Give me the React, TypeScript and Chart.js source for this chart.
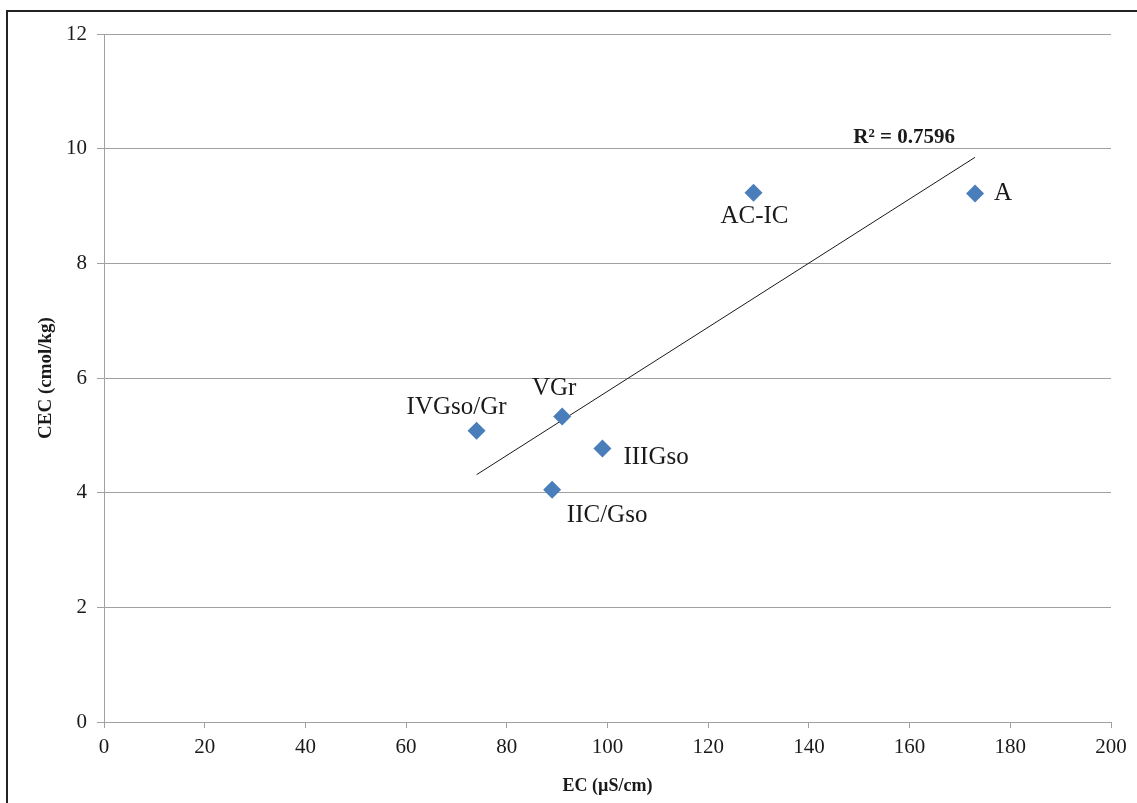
import React, { useEffect, useRef } from "react";
import { Chart, registerables } from "chart.js";

Chart.register(...registerables);

// Data
const horizonLabels = ["A", "AC-IC", "VGr", "IVGso/Gr", "IIIGso", "IIC/Gso"];
const ecValues = [173, 129, 91, 74, 99, 89];
const cecValues = [9.22, 9.23, 5.33, 5.08, 4.77, 4.05];
const xTicks = [0, 20, 40, 60, 80, 100, 120, 140, 160, 180, 200];
const yTicks = [0, 2, 4, 6, 8, 10, 12];
const r2Text = "R² = 0.7596";
const xTitle = "EC (µS/cm)";
const yTitle = "CEC (cmol/kg)";

// label placement (style): [dx, dy, align]
const labelPlacement: [number, number, CanvasTextAlign][] = [
  [19, 0, "left"],
  [1, 24, "center"],
  [-8, -28, "center"],
  [-20, -23, "center"],
  [21, 9, "left"],
  [55, 26, "center"],
];

function linearFit(xs: number[], ys: number[]) {
  const n = xs.length;
  const mx = xs.reduce((a, b) => a + b, 0) / n;
  const my = ys.reduce((a, b) => a + b, 0) / n;
  let sxy = 0;
  let sxx = 0;
  for (let i = 0; i < n; i++) {
    sxy += (xs[i] - mx) * (ys[i] - my);
    sxx += (xs[i] - mx) * (xs[i] - mx);
  }
  const slope = sxy / sxx;
  return { slope, intercept: my - slope * mx };
}

const fit = linearFit(ecValues, cecValues);
const xMin = Math.min(...ecValues);
const xMax = Math.max(...ecValues);
const trendData = [
  { x: xMin, y: fit.slope * xMin + fit.intercept },
  { x: xMax, y: fit.slope * xMax + fit.intercept },
];

const FONT = "'Liberation Serif', 'Times New Roman', serif";

const annotationPlugin = {
  id: "annotations",
  beforeDraw(chart: any) {
    const ctx = chart.ctx;
    ctx.save();
    ctx.fillStyle = "#ffffff";
    ctx.fillRect(0, 0, chart.width, chart.height);
    ctx.strokeStyle = "#222222";
    ctx.lineWidth = 2;
    ctx.beginPath();
    ctx.moveTo(7, chart.height);
    ctx.lineTo(7, 11);
    ctx.lineTo(chart.width, 11);
    ctx.stroke();
    ctx.restore();
  },
  afterDatasetsDraw(chart: any) {
    const ctx = chart.ctx;
    const meta = chart.getDatasetMeta(0);
    ctx.save();
    ctx.fillStyle = "#1a1a1a";
    ctx.font = `25px ${FONT}`;
    ctx.textBaseline = "middle";
    meta.data.forEach((pt: any, i: number) => {
      const [dx, dy, align] = labelPlacement[i];
      ctx.textAlign = align;
      ctx.fillText(horizonLabels[i], pt.x + dx, pt.y + dy);
    });
    const tmeta = chart.getDatasetMeta(1);
    const end = tmeta.data[tmeta.data.length - 1];
    ctx.font = `bold 21px ${FONT}`;
    ctx.textAlign = "center";
    ctx.fillText(r2Text, end.x - 71, end.y - 20);
    ctx.restore();
  },
};

export default function App() {
  const ref = useRef<HTMLCanvasElement | null>(null);

  useEffect(() => {
    document.body.style.margin = "0";
    const canvas = ref.current;
    if (!canvas) return;
    const chart = new Chart(canvas, {
      type: "scatter",
      data: {
        datasets: [
          {
            label: "CEC",
            data: ecValues.map((x, i) => ({ x, y: cecValues[i] })),
            pointStyle: "rectRot",
            pointRadius: 9,
            pointBackgroundColor: "#4a7ebb",
            pointBorderColor: "#4a7ebb",
            pointBorderWidth: 0,
            showLine: false,
          },
          {
            label: "Trend",
            data: trendData,
            showLine: true,
            borderColor: "#1a1a1a",
            borderWidth: 1,
            pointRadius: 0,
            fill: false,
          },
        ],
      },
      options: {
        responsive: false,
        animation: false,
        layout: { padding: { top: 34, right: 26, left: 0, bottom: 0 } },
        plugins: {
          legend: { display: false },
          tooltip: { enabled: false },
        },
        scales: {
          x: {
            type: "linear",
            min: 0,
            max: 200,
            afterBuildTicks: (axis: any) => {
              axis.ticks = xTicks.map((v) => ({ value: v }));
            },
            afterFit: (axis: any) => {
              axis.height = 81;
            },
            grid: {
              drawOnChartArea: false,
              drawTicks: true,
              tickLength: 6,
              color: "#a0a0a0",
            },
            border: { color: "#a0a0a0", width: 1 },
            ticks: {
              padding: 7,
              color: "#1a1a1a",
              font: { family: FONT, size: 21 },
              maxRotation: 0,
            },
            title: {
              display: true,
              text: xTitle,
              color: "#1a1a1a",
              font: { family: FONT, size: 18, weight: "bold" },
              padding: { bottom: 6, top: 0 },
            },
          },
          y: {
            type: "linear",
            min: 0,
            max: 12,
            afterBuildTicks: (axis: any) => {
              axis.ticks = yTicks.map((v) => ({ value: v }));
            },
            afterFit: (axis: any) => {
              axis.width = 104;
            },
            grid: {
              drawOnChartArea: true,
              drawTicks: true,
              tickLength: 7,
              color: "#a0a0a0",
            },
            border: { color: "#a0a0a0", width: 1 },
            ticks: {
              padding: 10,
              color: "#1a1a1a",
              font: { family: FONT, size: 21 },
            },
            title: {
              display: true,
              text: yTitle,
              color: "#1a1a1a",
              font: { family: FONT, size: 19, weight: "bold" },
              padding: { top: 35, bottom: 0 },
            },
          },
        },
      },
      plugins: [annotationPlugin],
    } as any);
    return () => chart.destroy();
  }, []);

  return (
    <div style={{ width: 1137, height: 803 }}>
      <canvas ref={ref} width={1137} height={803} style={{ display: "block" }} />
    </div>
  );
}
